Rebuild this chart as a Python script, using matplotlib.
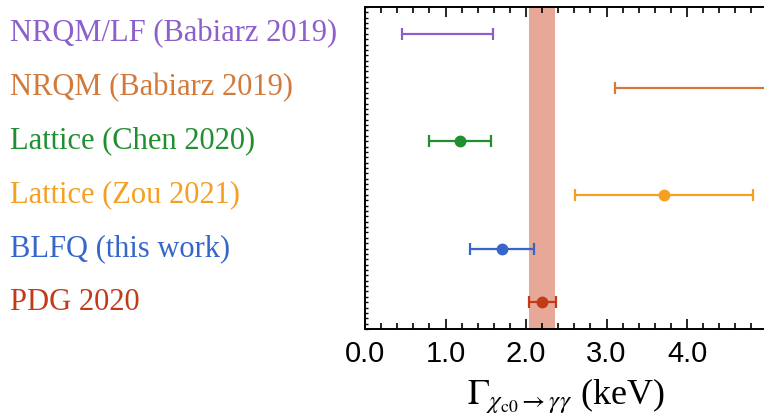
import matplotlib

matplotlib.use("Agg")
import matplotlib.pyplot as plt  # noqa: E402
from matplotlib.ticker import MultipleLocator  # noqa: E402
from matplotlib.transforms import blended_transform_factory  # noqa: E402

# rows, top to bottom
labels = ["NRQM/LF (Babiarz 2019)", "NRQM (Babiarz 2019)", "Lattice (Chen 2020)",
          "Lattice (Zou 2021)", "BLFQ (this work)", "PDG 2020"]
colors = ["#8c5fcb", "#d27a3c", "#1f8f2f", "#f5a023", "#3566cc", "#c33a17"]
centers = [None, None, 1.18, 3.71, 1.70, 2.20]   # None -> range only, no marker
lows = [0.46, 3.11, 0.80, 2.61, 1.30, 2.04]
highs = [1.59, 6.00, 1.57, 4.82, 2.10, 2.37]
pdg_band = (2.04, 2.36)

plt.rcParams["mathtext.fontset"] = "stix"

fig = plt.figure(figsize=(7.64, 4.2), dpi=100)
ax = fig.add_axes([365 / 764, 1 - 329 / 420, 402.5 / 764, 322 / 420])

n = len(labels)
ax.set_xlim(0, 5)
ax.set_ylim(0.5, n + 0.5)

ax.axvspan(*pdg_band, color="#e8a898", lw=0, zorder=0)

label_tr = blended_transform_factory(fig.transFigure, ax.transData)
for i, (lab, c, m, lo, hi) in enumerate(zip(labels, colors, centers, lows, highs)):
    y = n - i
    mid = m if m is not None else 0.5 * (lo + hi)
    ax.errorbar([mid], [y], xerr=[[mid - lo], [hi - mid]], fmt="none", ecolor=c,
                elinewidth=1.6, capsize=4, capthick=1.6, zorder=3)
    if m is not None:
        ax.plot([m], [y], "o", color=c, ms=7.5, zorder=4)
    fig.text(10 / 764, y, lab, color=c, transform=label_tr,
             family="Liberation Serif", fontsize=22, va="center", ha="left")

ax.xaxis.set_major_locator(MultipleLocator(1))
ax.xaxis.set_minor_locator(MultipleLocator(0.2))
ax.set_xticks([0, 1, 2, 3, 4])
ax.set_xticklabels(["0.0", "1.0", "2.0", "3.0", "4.0"], family="Liberation Sans", fontsize=21)
ax.yaxis.set_major_locator(MultipleLocator(0.5))
ax.yaxis.set_minor_locator(MultipleLocator(0.1))
ax.set_yticklabels([])
ax.tick_params(axis="x", which="both", direction="in", top=True, width=1.2, pad=8)
ax.tick_params(axis="x", which="major", length=7)
ax.tick_params(axis="x", which="minor", length=4)
ax.tick_params(axis="y", which="both", direction="in", length=2, width=1.0, left=True, labelleft=False)
for s in ax.spines.values():
    s.set_linewidth(1.4)

ax.set_xlabel(r"$\Gamma_{\chi_{\rm c0}\to\gamma\gamma}$ (keV)", family="Liberation Serif",
              fontsize=26, labelpad=6)

fig.savefig("out.png", dpi=100)
plt.close(fig)
